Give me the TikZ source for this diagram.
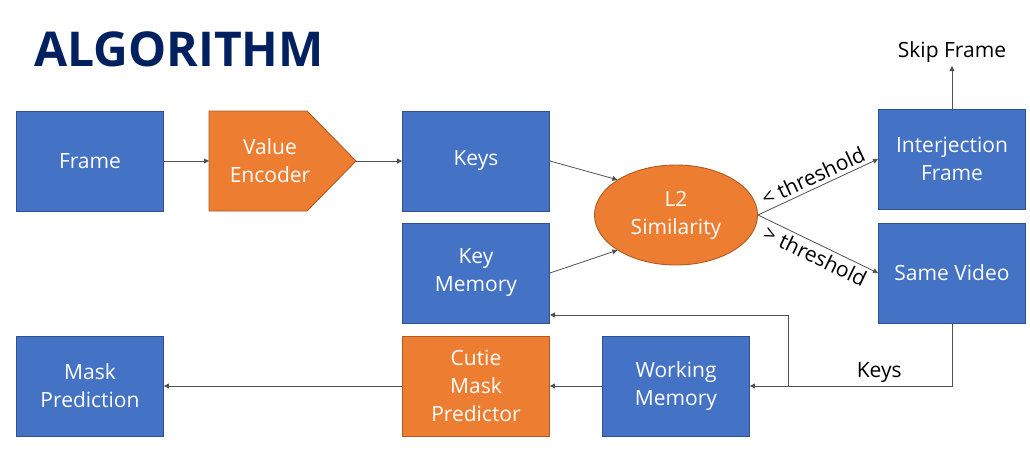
\documentclass[tikz,border=0pt]{standalone}
\usepackage{fontspec}
\setmainfont{Open Sans}
\usetikzlibrary{arrows.meta,shapes.geometric}
\definecolor{boxblue}{HTML}{4472C4}
\definecolor{boxblueline}{HTML}{2F528F}
\definecolor{boxorange}{HTML}{ED7D31}
\definecolor{boxorangeline}{HTML}{AE5A21}
\definecolor{titlenavy}{HTML}{002060}
\definecolor{conn}{HTML}{505050}
\tikzset{
  bluebox/.style={draw=boxblueline, fill=boxblue, line width=0.9pt, minimum width=147pt, minimum height=100pt, inner sep=0pt, text=white, align=center, font=\fontsize{21}{28}\selectfont},
  orangebox/.style={bluebox, draw=boxorangeline, fill=boxorange},
  boxtext/.style={text=white, align=center, font=\fontsize{21}{28}\selectfont},
  plain/.style={text=black, font=\fontsize{21}{24}\selectfont},
  link/.style={draw=conn, line width=0.8pt, -{Triangle[length=5pt,width=5pt]}},
  seg/.style={draw=conn, line width=0.8pt}
}
\begin{document}
\begin{tikzpicture}[x=1pt,y=-1pt]
\useasboundingbox (0,0) rectangle (1030,453);
% title
\node[anchor=west, text=titlenavy, font=\fontsize{48}{50}\selectfont\bfseries, inner sep=0pt] (title) at (34,49) {ALGORITHM};
% top row
\node[bluebox] (frame) at (90,161) {Frame};
\draw[draw=boxorangeline, fill=boxorange, line width=0.9pt] (209,111) -- (307,111) -- (356,161) -- (307,211) -- (209,211) -- cycle;
\node[boxtext] (ve) at (270,161) {Value\\Encoder};
\coordinate (vewest) at (209,161);
\coordinate (vetip) at (356,161);
\node[bluebox] (keys) at (476,161) {Keys};
\node[bluebox] (keymem) at (476,273) {Key\\Memory};
\node[ellipse, draw=boxorangeline, fill=boxorange, line width=0.9pt, minimum width=163pt, minimum height=100pt, inner sep=0pt, boxtext] (l2) at (676,215) {L2\\Similarity};
\node[bluebox] (interj) at (952,159) {Interjection\\Frame};
\node[bluebox] (same) at (952,273) {Same Video};
\node[plain] (skip) at (952,52) {Skip Frame};
% bottom row
\node[bluebox] (maskpred) at (90,386) {Mask\\Prediction};
\node[orangebox] (cutie) at (476,386) {Cutie\\Mask\\Predictor};
\node[bluebox] (work) at (676,386) {Working\\Memory};
% connectors
\draw[link] (frame.east) -- (vewest);
\draw[link] (vetip) -- (keys.west);
\draw[link] (keys.east) -- (l2.149);
\draw[link] (keymem.east) -- (l2.211);
\draw[link] (l2.east) -- node[sloped, above, pos=0.5, plain, inner sep=3.5pt] {< threshold} (interj.west);
\draw[link] (l2.east) -- node[sloped, below, pos=0.52, plain, inner sep=3.5pt] {> threshold} (same.west);
\draw[link] (interj.north) -- (skip.south);
\coordinate (corner) at (952,386);
\coordinate (branch) at (788,386);
\coordinate (branchtop) at (788,315);
\coordinate (kmin) at (550,315);
\draw[link] (same.south) -- (corner) -- node[above, plain, pos=0.36, inner sep=3pt] {Keys} (work.east);
\draw[link] (branch) -- (branchtop) -- (kmin);
\draw[link] (work.west) -- (cutie.east);
\draw[link] (cutie.west) -- (maskpred.east);
\end{tikzpicture}
\end{document}
